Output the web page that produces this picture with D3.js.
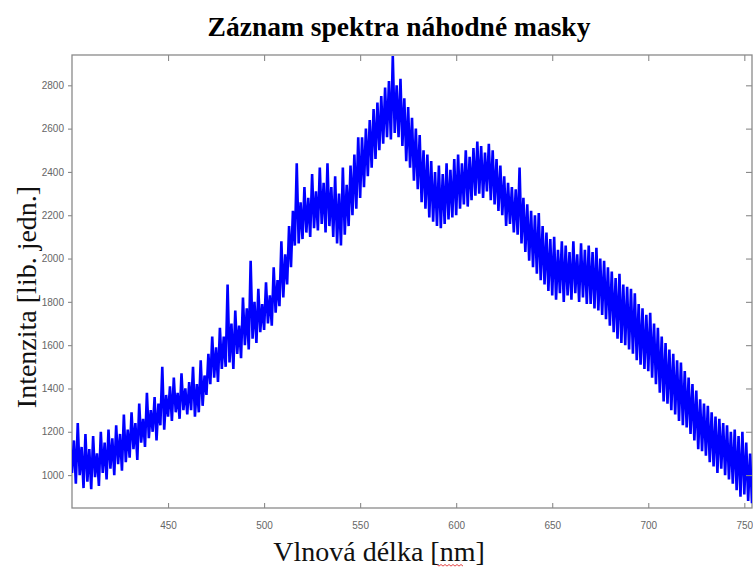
<!DOCTYPE html>
<html>
<head>
<meta charset="utf-8">
<script src="https://cdn.jsdelivr.net/npm/d3@7"></script>
<style>
  html, body { margin: 0; padding: 0; background: #fff; }
  svg { display: block; }
</style>
</head>
<body>
<div id="chart"></div>
<script>
// Spectrum of a random mask: intensity sampled every 1 nm from 400 nm to 754 nm
const startWavelength = 400;
const intensity = [
  1010,1160,960,1240,1000,1130,940,1190,970,1120,
  935,1180,990,1100,950,1200,1010,1150,980,1210,
  1030,1170,1000,1230,1050,1190,1020,1280,1060,1210,
  1080,1290,1120,1240,1070,1330,1150,1260,1130,1380,
  1170,1300,1200,1360,1160,1330,1230,1500,1210,1370,
  1270,1410,1250,1450,1290,1380,1260,1470,1300,1400,
  1280,1430,1300,1500,1270,1420,1290,1530,1320,1460,
  1370,1560,1420,1640,1450,1590,1430,1680,1490,1640,
  1500,1880,1520,1700,1490,1760,1560,1690,1540,1820,
  1600,1770,1580,1990,1630,1800,1610,1860,1660,1790,
  1670,1890,1700,1830,1690,1960,1750,1900,1780,2080,
  1820,2020,1880,2150,1960,2220,2060,2440,2070,2260,
  2090,2330,2120,2280,2100,2390,2140,2310,2130,2420,
  2160,2350,2120,2440,2150,2330,2100,2380,2070,2300,
  2060,2420,2110,2340,2150,2430,2200,2480,2230,2560,
  2280,2560,2330,2600,2380,2640,2420,2690,2460,2720,
  2500,2750,2530,2790,2560,2820,2550,2935,2580,2800,
  2560,2830,2520,2740,2450,2700,2420,2650,2360,2600,
  2320,2570,2260,2500,2230,2480,2190,2450,2170,2400,
  2150,2430,2140,2390,2160,2440,2180,2410,2190,2460,
  2200,2480,2230,2440,2250,2500,2240,2470,2270,2510,
  2290,2540,2300,2520,2280,2490,2310,2530,2270,2500,
  2250,2460,2220,2430,2200,2380,2150,2350,2160,2330,
  2120,2320,2110,2420,2070,2280,2030,2250,1990,2220,
  1960,2200,1930,2210,1900,2150,1880,2120,1850,2090,
  1830,2100,1810,2040,1840,2080,1800,2060,1830,2030,
  1810,2080,1840,2020,1800,2070,1820,2040,1790,2060,
  1790,2030,1770,2050,1760,2000,1740,1990,1720,1960,
  1690,1940,1660,1910,1630,1930,1610,1880,1600,1870,
  1580,1860,1560,1840,1530,1790,1510,1770,1490,1740,
  1480,1750,1450,1700,1420,1680,1380,1640,1340,1610,
  1330,1580,1300,1560,1280,1530,1250,1520,1230,1480,
  1220,1450,1190,1420,1160,1390,1120,1350,1110,1330,
  1090,1320,1060,1290,1040,1270,1010,1260,1030,1240,
  1000,1230,980,1200,960,1210,930,1180,900,1200,
  910,1150,880,1100,870
];
const xTicks = [450, 500, 550, 600, 650, 700, 750];
const yTicks = [1000, 1200, 1400, 1600, 1800, 2000, 2200, 2400, 2600, 2800];
const xDomain = [400, 754];
const yDomain = [848, 2940];

const titleText = "Záznam spektra náhodné masky";
const xLabelText = "Vlnová délka [nm]";
const yLabelText = "Intenzita [lib. jedn.]";

const W = 753, H = 568;
const plot = { left: 72, right: 752, top: 55, bottom: 508 };
const frameColor = "#8a8a8a";
const tickTextColor = "#666";
const serif = "'Liberation Serif', 'Times New Roman', serif";

const svg = d3.select("#chart").append("svg")
  .attr("width", W).attr("height", H);

const x = d3.scaleLinear().domain(xDomain).range([plot.left, plot.right]);
const y = d3.scaleLinear().domain(yDomain).range([plot.bottom, plot.top]);

const points = intensity.map((v, i) => ({ wl: startWavelength + i, v }));

// Plot frame
svg.append("rect")
  .attr("x", plot.left).attr("y", plot.top)
  .attr("width", plot.right - plot.left).attr("height", plot.bottom - plot.top)
  .attr("fill", "none").attr("stroke", frameColor).attr("stroke-width", 1.3);

svg.append("clipPath").attr("id", "plotclip")
  .append("rect")
  .attr("x", plot.left).attr("y", plot.top)
  .attr("width", plot.right - plot.left).attr("height", plot.bottom - plot.top);

// Spectrum line
svg.append("path")
  .datum(points)
  .attr("clip-path", "url(#plotclip)")
  .attr("fill", "none")
  .attr("stroke", "#0000ff")
  .attr("stroke-width", 2.6)
  .attr("stroke-linejoin", "bevel")
  .attr("d", d3.line().x(d => x(d.wl)).y(d => y(d.v)));

function styleAxis(g) {
  g.select(".domain").remove();
  g.selectAll(".tick line").attr("stroke", frameColor).attr("stroke-width", 1.1);
  g.selectAll(".tick text")
    .attr("fill", tickTextColor)
    .style("font-family", "Arial, 'Liberation Sans', sans-serif")
    .style("font-size", "10px");
}

const fmt = d3.format("d");

// Bottom axis: ticks point into the plot
svg.append("g")
  .attr("transform", `translate(0,${plot.bottom})`)
  .call(d3.axisBottom(x).tickValues(xTicks).tickFormat(fmt).tickSize(-5).tickPadding(14))
  .call(styleAxis);

// Top axis: ticks only, pointing into the plot
svg.append("g")
  .attr("transform", `translate(0,${plot.top})`)
  .call(d3.axisTop(x).tickValues(xTicks).tickSize(-6).tickFormat(""))
  .call(styleAxis);

// Left axis: outward ticks with labels
svg.append("g")
  .attr("transform", `translate(${plot.left},0)`)
  .call(d3.axisLeft(y).tickValues(yTicks).tickFormat(fmt).tickSize(4).tickPadding(4))
  .call(styleAxis);

// Right axis: inward ticks only
svg.append("g")
  .attr("transform", `translate(${plot.right},0)`)
  .call(d3.axisRight(y).tickValues(yTicks).tickSize(-6).tickFormat(""))
  .call(styleAxis);

// Title
svg.append("text")
  .attr("x", 399).attr("y", 36)
  .attr("text-anchor", "middle")
  .style("font-family", serif)
  .style("font-weight", "bold")
  .style("font-size", "27.5px")
  .attr("fill", "#000")
  .text(titleText);

// X label
svg.append("text")
  .attr("x", 379).attr("y", 561)
  .attr("text-anchor", "middle")
  .style("font-family", serif)
  .style("font-size", "28px")
  .attr("fill", "#111")
  .text(xLabelText);

// Y label
svg.append("text")
  .attr("transform", "translate(36,297) rotate(-90)")
  .attr("text-anchor", "middle")
  .style("font-family", serif)
  .style("font-size", "28px")
  .attr("fill", "#111")
  .text(yLabelText);

// Wavy red underline beneath "nm"
const wave = [];
for (let px = 437; px <= 463; px += 2) wave.push([px, 564.5 + ((px - 437) / 2 % 2 === 0 ? 0 : 1.6)]);
svg.append("path")
  .attr("d", d3.line()(wave))
  .attr("fill", "none")
  .attr("stroke", "#e03030")
  .attr("stroke-width", 0.9);
</script>
</body>
</html>
